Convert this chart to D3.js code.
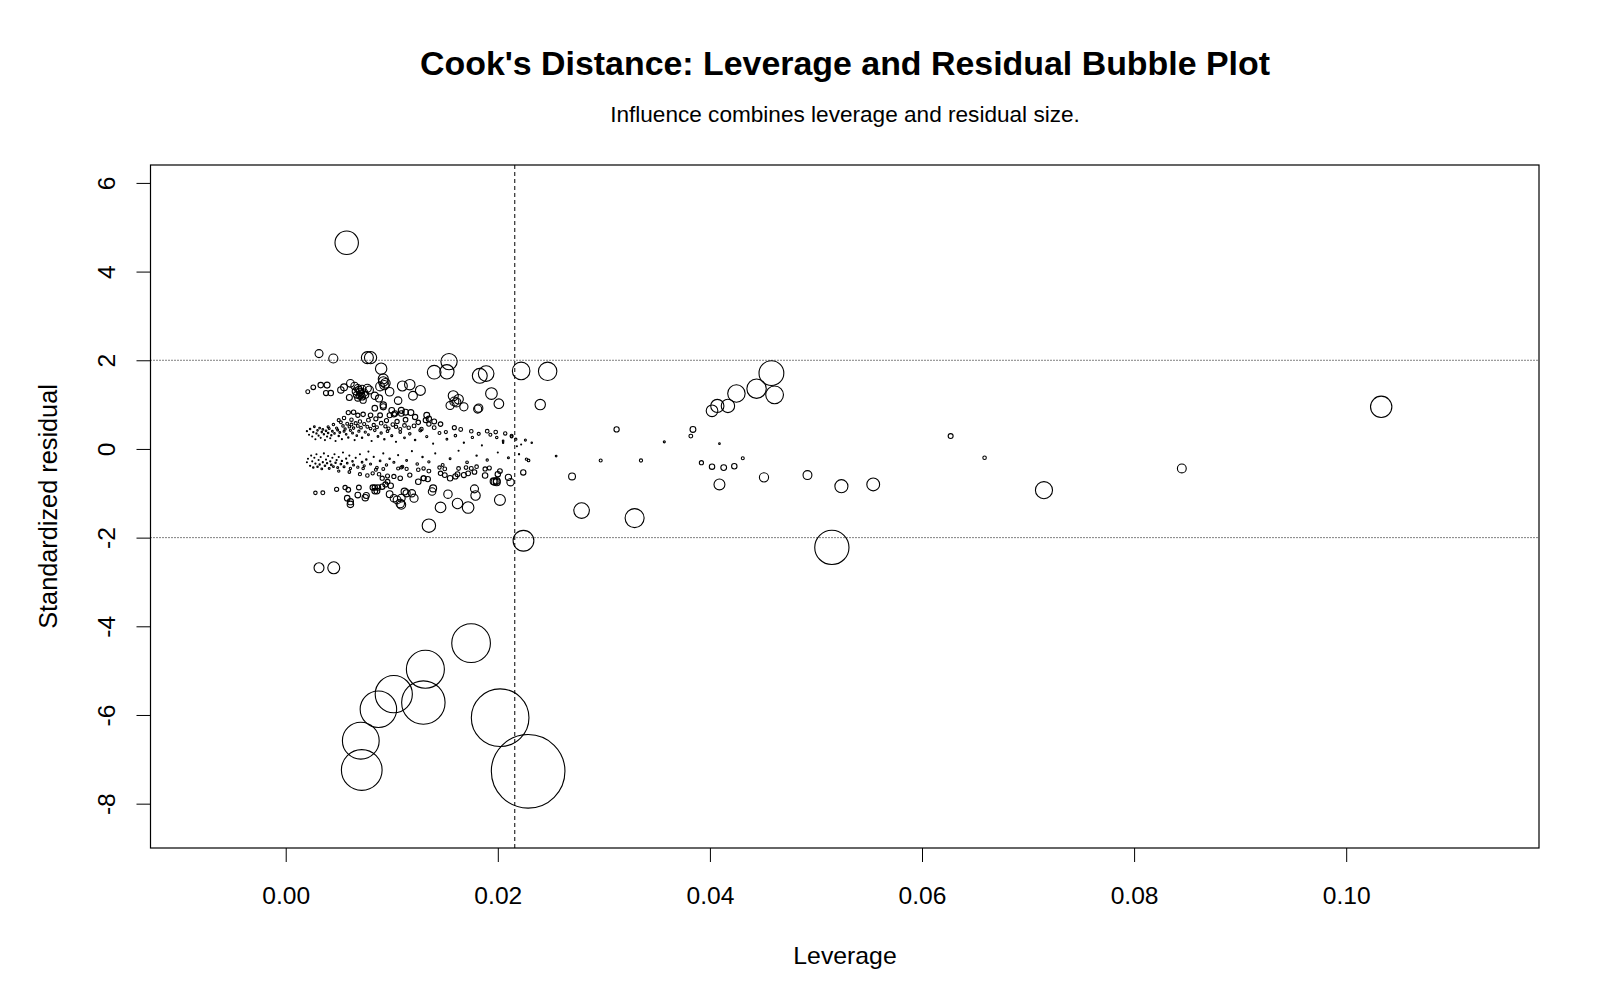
<!DOCTYPE html>
<html><head><meta charset="utf-8">
<script src="https://cdn.jsdelivr.net/npm/d3@7"></script>
<style>
body{margin:0;background:#fff;}
svg{display:block;font-family:"Liberation Sans",Arial,Helvetica,sans-serif;}
</style></head><body>
<svg id="chart" width="1600" height="1000"></svg>
<script>
// ---------------- DATA ----------------
const titleText = "Cook's Distance: Leverage and Residual Bubble Plot";
const subtitleText = "Influence combines leverage and residual size.";
const xLabel = "Leverage";
const yLabel = "Standardized residual";
const xTicks = [0, 0.02, 0.04, 0.06, 0.08, 0.10];
const xTickLabels = ["0.00", "0.02", "0.04", "0.06", "0.08", "0.10"];
const yTicks = [-8, -6, -4, -2, 0, 2, 4, 6];
const yTickLabels = ["-8", "-6", "-4", "-2", "0", "2", "4", "6"];
const leverageCutoff = 0.0216;
const residualCutoffs = [-2, 2];

// [leverage, standardized residual]
const extremeNegative = [
  [0.01748,-4.38],[0.01317,-4.97],[0.01019,-5.53],[0.01298,-5.72],[0.00874,-5.87],
  [0.02022,-6.06],[0.00708,-6.58],[0.00717,-7.24],[0.02286,-7.27]
];
const notablePoints = [
  [0.00575,4.65],[0.00314,-2.68],[0.00453,-2.68],[0.02242,-2.07],[0.0515,-2.22],
  [0.1033,0.95],[0.0715,-0.93],[0.0845,-0.44],[0.0627,0.29],[0.0659,-0.20],
  [0.0329,-1.56],[0.0279,-1.39],[0.0270,-0.62],[0.0492,-0.59],[0.0524,-0.84],[0.0554,-0.80],
  [0.0451,-0.64],[0.0409,-0.80],[0.0392,-0.31],[0.0402,-0.40],[0.0413,-0.42],[0.0423,-0.39],
  [0.0431,-0.21],[0.0409,0.12],[0.0384,0.44],[0.0382,0.29],[0.0357,0.16],[0.0312,0.44],
  [0.0335,-0.26],[0.0297,-0.26],[0.0255,-0.16],[0.0229,-0.26],[0.0227,-0.23],
  [0.0402,0.86],[0.0407,0.97],[0.0417,0.97],[0.0425,1.25],[0.0444,1.36],[0.0458,1.71],[0.0461,1.22]
];
const upperLarge = [
  [0.00314,2.15],[0.00449,2.04],[0.0077,2.06],[0.0080,2.06],[0.0154,1.97],[0.0090,1.81],
  [0.0140,1.73],[0.0152,1.74],[0.0183,1.65],[0.0189,1.70],[0.0222,1.76],[0.0247,1.75],
  [0.0194,1.25],[0.0201,1.02],[0.0240,1.00],[0.0181,0.90],[0.0182,0.92],
  [0.0158,1.20],[0.0159,1.07],[0.0155,0.98],[0.0161,1.05],[0.0168,0.95],[0.0163,1.12],
  [0.00208,1.29],[0.0026,1.39],[0.0033,1.44],[0.0039,1.44],[0.0038,1.26],[0.00425,1.26],
  [0.0052,1.33],[0.0055,1.39],[0.0061,1.48],[0.0060,1.16],[0.0065,1.42],[0.0068,1.37],
  [0.0070,1.29],[0.0067,1.22],[0.0072,1.18],[0.0073,1.10],[0.0077,1.37],[0.0079,1.33],
  [0.0084,1.20],[0.0088,1.14],[0.0089,1.41],[0.0092,1.52],[0.0093,1.44],[0.0098,1.29],
  [0.0106,1.09],[0.0110,1.42],[0.0117,1.45],[0.0120,1.20],[0.0127,1.32],[0.0092,0.95],
  [0.0069,1.33],[0.0071,1.25],[0.0066,1.30],[0.0074,1.27],[0.0070,1.20],[0.0072,1.35],
  [0.0068,1.15],[0.0075,1.22],[0.0092,1.58],[0.0094,1.48]
];
const upperMedium = [
  [0.0092,0.99],[0.0100,0.87],[0.0103,0.80],[0.0098,0.76],[0.0102,0.78],[0.0109,0.87],
  [0.0109,0.80],[0.0113,0.83],[0.0118,0.82],[0.0122,0.72],[0.0133,0.76],[0.0135,0.68],
  [0.0084,0.92],[0.0089,0.76],[0.0080,0.76],[0.0073,0.78],[0.0068,0.76],[0.0064,0.83],
  [0.0059,0.82],[0.0055,0.70],[0.0050,0.65],[0.0062,0.66],[0.0070,0.62],[0.0078,0.65],
  [0.0085,0.68],[0.0095,0.64],[0.0105,0.62],[0.0113,0.66],[0.0125,0.60],[0.0140,0.62],
  [0.0132,0.65],[0.0135,0.56],[0.0140,0.48],[0.0151,0.38],[0.0159,0.48],[0.0146,0.56],
  [0.0165,0.44],[0.0175,0.40],[0.0198,0.38],[0.0207,0.35],[0.0182,0.34],[0.0190,0.40]
];
const upperSmall = [
  [0.0040,0.50],[0.0045,0.55],[0.0048,0.47],[0.0052,0.60],[0.0054,0.52],[0.0056,0.45],
  [0.0058,0.57],[0.0060,0.50],[0.0062,0.55],[0.0064,0.47],[0.0066,0.58],[0.0068,0.52],
  [0.0071,0.48],[0.0074,0.56],[0.0077,0.50],[0.0080,0.46],[0.0083,0.54],[0.0086,0.49],
  [0.0090,0.58],[0.0094,0.51],[0.0097,0.46],[0.0101,0.55],[0.0104,0.50],[0.0108,0.45],
  [0.0112,0.53],[0.0116,0.48],[0.0121,0.52],[0.0128,0.45]
];
const upperDots = [
  [0.0020,0.40],[0.0022,0.32],[0.0023,0.45],[0.0025,0.28],[0.0026,0.38],[0.0027,0.50],
  [0.0028,0.22],[0.0029,0.35],[0.0030,0.42],[0.0031,0.30],[0.0032,0.47],[0.0033,0.25],
  [0.0034,0.38],[0.0035,0.44],[0.0036,0.33],[0.0037,0.20],[0.0038,0.41],[0.0039,0.28],
  [0.0040,0.36],[0.0041,0.46],[0.0042,0.24],[0.0043,0.31],[0.0044,0.40],[0.0046,0.35],
  [0.0047,0.18],[0.0049,0.43],[0.0050,0.29],[0.0051,0.37],[0.0053,0.22],[0.0055,0.40],
  [0.0057,0.33],[0.0059,0.26],[0.0061,0.42],[0.0063,0.36],[0.0065,0.20],[0.0067,0.30],
  [0.0069,0.40],[0.0072,0.25],[0.0075,0.38],[0.0078,0.32],[0.0081,0.18],[0.0084,0.42],
  [0.0087,0.28],[0.0090,0.36],[0.0093,0.22],[0.0096,0.40],[0.0100,0.30],[0.0104,0.16],
  [0.0108,0.38],[0.0112,0.25],[0.0117,0.34],[0.0122,0.20],[0.0127,0.42],[0.0133,0.28],
  [0.0139,0.12],[0.0145,0.36],[0.0152,0.22],[0.0160,0.30],[0.0168,0.14],[0.0176,0.26],
  [0.0185,0.08],[0.0193,0.32],[0.0205,0.18],[0.0213,0.28],[0.0218,0.06],[0.0226,0.20],
  [0.0232,0.14],[0.0217,0.22],[0.0222,0.10],[0.0213,0.30],[0.0205,0.14],[0.0199,0.26]
];
const lowerDots = [
  [0.0020,-0.30],[0.0021,-0.22],[0.0023,-0.38],[0.0024,-0.15],[0.0025,-0.28],[0.0026,-0.42],
  [0.0027,-0.20],[0.0028,-0.33],[0.0029,-0.12],[0.0030,-0.40],[0.0031,-0.25],[0.0032,-0.35],
  [0.0033,-0.18],[0.0034,-0.45],[0.0035,-0.30],[0.0036,-0.10],[0.0037,-0.38],[0.0038,-0.24],
  [0.0039,-0.32],[0.0040,-0.16],[0.0041,-0.44],[0.0042,-0.28],[0.0043,-0.36],[0.0044,-0.20],
  [0.0045,-0.40],[0.0046,-0.12],[0.0047,-0.31],[0.0048,-0.25],[0.0049,-0.42],[0.0050,-0.18],
  [0.0052,-0.34],[0.0053,-0.27],[0.0054,-0.08],[0.0055,-0.40],[0.0057,-0.22],[0.0058,-0.32],
  [0.0060,-0.15],[0.0061,-0.44],[0.0063,-0.28],[0.0064,-0.36],[0.0066,-0.20],[0.0068,-0.41],
  [0.0070,-0.12],[0.0072,-0.30],[0.0074,-0.38],[0.0076,-0.24],[0.0078,-0.06],[0.0080,-0.34],
  [0.0083,-0.18],[0.0086,-0.42],[0.0089,-0.27],[0.0092,-0.10],[0.0095,-0.36],[0.0098,-0.22],
  [0.0102,-0.30],[0.0106,-0.14],[0.0110,-0.40],[0.0114,-0.26],[0.0119,-0.05],[0.0124,-0.34],
  [0.0129,-0.18],[0.0135,-0.29],[0.0141,-0.10],[0.0148,-0.36],[0.0155,-0.22],[0.0163,-0.04],
  [0.0171,-0.30],[0.0180,-0.15],[0.0190,-0.25],[0.0200,-0.08],[0.0210,-0.20],[0.0220,-0.12]
];
const lowerSmall = [
  [0.0073,-0.44],[0.0085,-0.47],[0.0092,-0.45],[0.0106,-0.44],[0.0109,-0.42],[0.0114,-0.45],
  [0.0125,-0.47],[0.0130,-0.44],[0.0145,-0.42],[0.0150,-0.45],[0.0163,-0.44],[0.0170,-0.42],
  [0.0175,-0.44],[0.0180,-0.40],[0.0188,-0.45],[0.0192,-0.43],[0.0178,-0.52],[0.0172,-0.55],
  [0.0168,-0.59],[0.0162,-0.57],[0.0160,-0.62],[0.0155,-0.66],[0.0150,-0.59],[0.0146,-0.55],
  [0.0135,-0.50],[0.0130,-0.66],[0.0125,-0.74],[0.0117,-0.59],[0.0108,-0.66],[0.0102,-0.62],
  [0.0096,-0.61],[0.0091,-0.66],[0.0088,-0.57],[0.0082,-0.55],[0.0077,-0.60],[0.0070,-0.57],
  [0.0060,-0.52],[0.0050,-0.50],[0.0197,-0.74],[0.0199,-0.72],[0.0210,-0.64],[0.0224,-0.53],
  [0.0200,-0.57],[0.0196,-0.73],[0.0199,-0.75],[0.0212,-0.75],[0.0188,-0.60],[0.0202,-0.50]
];
const lowerLarge = [
  [0.0028,-0.99],[0.0035,-0.99],[0.0048,-0.91],[0.0056,-0.87],[0.0059,-0.92],[0.0058,-1.11],
  [0.0061,-1.19],[0.0061,-1.25],[0.0068,-1.04],[0.0069,-0.87],[0.0075,-1.10],[0.0076,-1.05],
  [0.0082,-0.87],[0.0084,-0.87],[0.0087,-0.87],[0.0091,-0.85],[0.0094,-0.80],[0.0096,-0.74],
  [0.0099,-0.83],[0.0098,-1.02],[0.0102,-1.11],[0.0105,-1.15],[0.0108,-1.23],[0.0109,-1.11],
  [0.0109,-1.26],[0.0112,-0.96],[0.0114,-1.00],[0.0119,-1.00],[0.0121,-1.11],[0.0130,-0.66],
  [0.0134,-0.68],[0.0139,-0.89],[0.0138,-0.96],[0.0153,-1.02],[0.0146,-1.32],[0.0162,-1.23],
  [0.0172,-1.32],[0.0178,-0.90],[0.0179,-1.05],[0.0202,-1.15],[0.0135,-1.73],[0.0084,-0.95],
  [0.0086,-0.95]
];

// ---------------- CHART ----------------
const points = [].concat(extremeNegative, notablePoints, upperLarge, upperMedium,
  upperSmall, upperDots, lowerDots, lowerSmall, lowerLarge)
  .map(([h, r]) => ({h, r, cook: r * r * h / (1 - h)}));

const svg = d3.select("#chart");
const plot = {left: 150.5, right: 1539, top: 165, bottom: 848};
const x = d3.scaleLinear().domain([-0.01275, 0.11818]).range([plot.left, plot.right]);
const y = d3.scaleLinear().domain([-9.0, 6.404]).range([plot.bottom, plot.top]);
const size = d3.scaleSqrt().domain([0, 1]).range([0, 33.1]);

svg.append("rect").attr("width", 1600).attr("height", 1000).attr("fill", "#fff");

// title
svg.append("text").attr("x", 845).attr("y", 74.5).attr("text-anchor", "middle")
  .attr("font-size", 33.9).attr("font-weight", "bold").attr("fill", "#000").text(titleText);
svg.append("text").attr("x", 845).attr("y", 122).attr("text-anchor", "middle")
  .attr("font-size", 22.6).attr("fill", "#000").text(subtitleText);

// reference lines
const gRef = svg.append("g");
gRef.selectAll("line.h").data(residualCutoffs).join("line")
  .attr("x1", plot.left).attr("x2", plot.right)
  .attr("y1", d => y(d)).attr("y2", d => y(d))
  .attr("stroke", "#000").attr("stroke-width", 1).attr("stroke-dasharray", "1,2");
gRef.append("line")
  .attr("x1", x(leverageCutoff)).attr("x2", x(leverageCutoff))
  .attr("y1", plot.top).attr("y2", plot.bottom)
  .attr("stroke", "#000").attr("stroke-width", 1).attr("stroke-dasharray", "4,3");

// points
svg.append("g").selectAll("circle").data(points).join("circle")
  .attr("cx", d => x(d.h)).attr("cy", d => y(d.r))
  .attr("r", d => Math.max(0.5, size(d.cook)))
  .attr("fill", "none").attr("stroke", "#000").attr("stroke-width", 1.1);

// box
svg.append("rect").attr("x", plot.left).attr("y", plot.top)
  .attr("width", plot.right - plot.left).attr("height", plot.bottom - plot.top)
  .attr("fill", "none").attr("stroke", "#000").attr("stroke-width", 1.2);

// x axis
const xAxis = svg.append("g").attr("transform", `translate(0,${plot.bottom})`)
  .call(d3.axisBottom(x).tickValues(xTicks).tickFormat((d, i) => xTickLabels[i]).tickSize(14));
xAxis.select(".domain").remove();
xAxis.selectAll("line").attr("stroke", "#000");
xAxis.selectAll("text").attr("y", 56).attr("dy", 0).attr("font-size", 24.6)
  .attr("font-family", "Liberation Sans, Arial, sans-serif").attr("fill", "#000");

// y axis
const yAxis = svg.append("g").attr("transform", `translate(${plot.left},0)`)
  .call(d3.axisLeft(y).tickValues(yTicks).tickFormat((d, i) => yTickLabels[i]).tickSize(14));
yAxis.select(".domain").remove();
yAxis.selectAll("line").attr("stroke", "#000");
yAxis.selectAll("text").attr("transform", "rotate(-90)")
  .attr("x", 0).attr("y", -36).attr("dy", 0).attr("text-anchor", "middle")
  .attr("font-size", 24.6).attr("font-family", "Liberation Sans, Arial, sans-serif").attr("fill", "#000");

// axis labels
svg.append("text").attr("x", 845).attr("y", 964).attr("text-anchor", "middle")
  .attr("font-size", 24.8).attr("fill", "#000").text(xLabel);
svg.append("text").attr("transform", `translate(57,506.5) rotate(-90)`)
  .attr("text-anchor", "middle").attr("font-size", 25.3).attr("fill", "#000").text(yLabel);
</script>
</body></html>
